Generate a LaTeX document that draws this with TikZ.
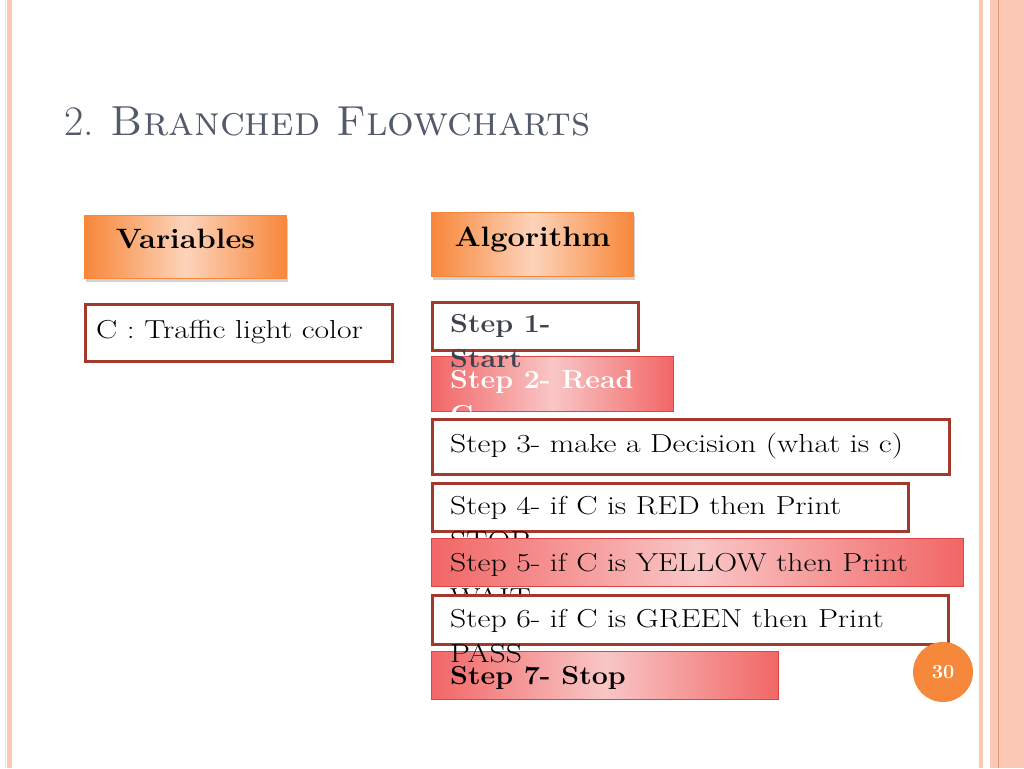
\documentclass[tikz,border=0pt]{standalone}
\usepackage{fontspec}
\usepackage{tikz}
\usetikzlibrary{shadows}

\newfontfamily\stepsfont{Latin Modern Roman}[FakeStretch=1.22, BoldFeatures={FakeStretch=1.1}]

\definecolor{stripepink}{HTML}{FBC8B6}
\definecolor{stripeline}{HTML}{E39A79}
\definecolor{titlegray}{HTML}{535B6B}
\definecolor{boxedge}{HTML}{A23A2B}
\definecolor{headorange}{HTML}{F7873A}
\definecolor{headlight}{HTML}{FDD3BA}
\definecolor{stepred}{HTML}{F26666}
\definecolor{steplight}{HTML}{F9C6C6}
\definecolor{stepedge}{HTML}{DC4545}
\definecolor{boldgray}{HTML}{3E4250}
\definecolor{pageorange}{HTML}{F5883A}

\newcommand{\txtsize}{\fontsize{26}{35}\selectfont}

\tikzset{
	headbox/.style={anchor=north west, draw=headorange, line width=1pt,
		left color=headorange, right color=headorange, middle color=headlight,
		drop shadow={shadow xshift=1pt, shadow yshift=-3pt, opacity=0.35},
		font=\stepsfont\fontsize{28}{35}\selectfont\bfseries, text height=18pt, text depth=15pt},
	plainbox/.style={anchor=north west, draw=boxedge, line width=2.5pt, fill=white, inner sep=0pt},
	redbox/.style={anchor=north west, draw=stepedge, line width=1pt,
		left color=stepred, right color=stepred, middle color=steplight, inner sep=0pt},
	steptext/.style={anchor=base west, align=left, inner sep=0pt, font=\stepsfont\txtsize},
	boldtext/.style={steptext, font=\stepsfont\txtsize\bfseries}
}

\begin{document}
\begin{tikzpicture}[x=1pt, y=-1pt]

	\useasboundingbox (0,0) rectangle (1024,768);
	\fill[white] (0,0) rectangle (1024,768);

	% side stripes
	\fill[stripepink!60] (5,0) rectangle (6,768);
	\fill[stripepink] (7,0) rectangle (12,768);
	\fill[stripepink] (979,0) rectangle (983,768);
	\fill[stripepink] (990,0) rectangle (1024,768);
	\draw[stripeline, line width=1pt] (998.5,0) -- (998.5,768);

	\node[anchor=base west, inner sep=0pt, text=titlegray, font=\fontsize{42}{44}\selectfont] (title) at (64,135) {2. \textsc{Branched Flowcharts}};

	\node[headbox, minimum width=202, minimum height=63] (vars) at (84,215) {Variables};
	\node[headbox, minimum width=202, minimum height=64] (algo) at (431,212) {Algorithm};

	\node[plainbox, minimum width=307, minimum height=57] (cbox) at (84,303) {};
	\node[steptext] (ctext) at (96,338) {C : Traffic light color};

	% two-line texts are placed by the baseline of their last line
	\node[plainbox, minimum width=206, minimum height=48] (s1) at (431,301) {};
	\node[redbox, minimum width=242, minimum height=55] (s2) at (431,356) {};
	\node[boldtext, text=boldgray] (s1text) at (450,367) {Step 1-\\Start};
	\node[boldtext, text=white] (s2text) at (450,423) {Step 2- Read\\C};

	\node[plainbox, minimum width=517, minimum height=55] (s3) at (431,418) {};
	\node[steptext] (s3text) at (450,452) {Step 3- make a Decision (what is c)};

	\node[plainbox, minimum width=476, minimum height=48] (s4) at (431,482) {};
	\node[steptext] (s4text) at (450,549) {Step 4- if C is RED then Print\\STOP};

	\node[redbox, minimum width=532, minimum height=48] (s5) at (431,538) {};
	\node[steptext] (s5text) at (450,606) {Step 5- if C is YELLOW then Print\\WAIT};

	\node[plainbox, minimum width=516, minimum height=49] (s6) at (431,594) {};
	\node[redbox, minimum width=347, minimum height=48] (s7) at (431,651) {};
	\node[steptext] (s6text) at (450,662) {Step 6- if C is GREEN then Print\\PASS};
	\node[boldtext] (s7text) at (450,684) {Step 7- Stop};

	\node[circle, fill=pageorange, minimum size=60, inner sep=0pt, text=white,
		font=\fontsize{20}{20}\selectfont\bfseries] (pnum) at (943,672) {30};

\end{tikzpicture}
\end{document}
